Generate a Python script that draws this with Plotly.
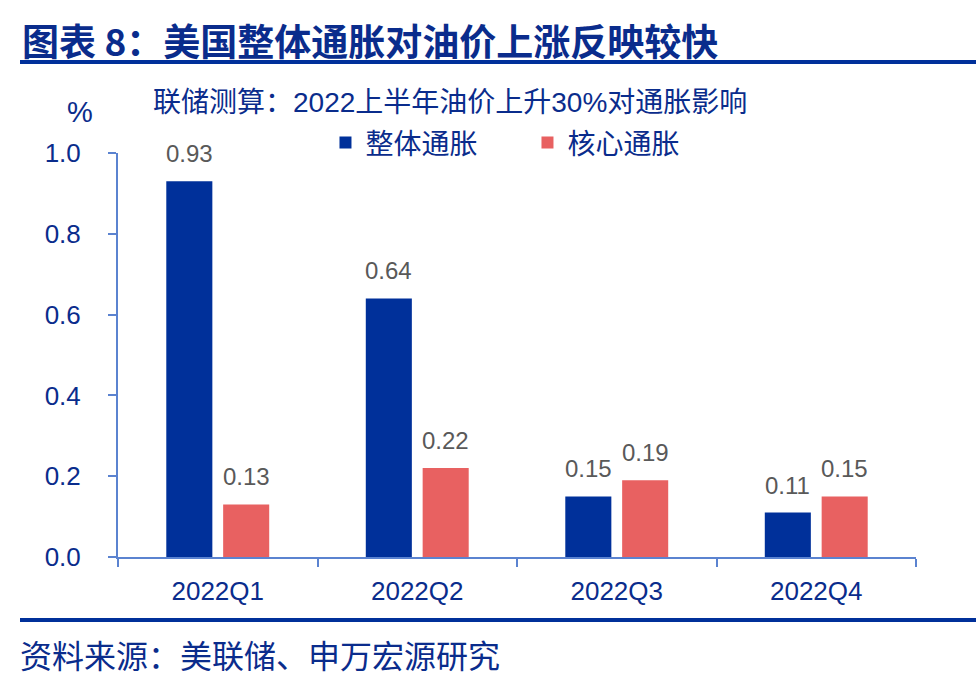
import plotly.graph_objects as go

categories = ["2022Q1", "2022Q2", "2022Q3", "2022Q4"]
headline = [0.93, 0.64, 0.15, 0.11]
core = [0.13, 0.22, 0.19, 0.15]
series_names = ["整体通胀", "核心通胀"]
y_ticks = [0.0, 0.2, 0.4, 0.6, 0.8, 1.0]

title_text = "图表 8：美国整体通胀对油价上涨反映较快"
subtitle_text = "联储测算：2022上半年油价上升30%对通胀影响"
source_text = "资料来源：美联储、申万宏源研究"

BLUE = "#00309A"
RED = "#E86161"
TEXT = "#0A2C8C"
AXIS = "#5B83D0"
LABEL = "#595959"
FONT = "Liberation Sans, Arial, Noto Sans CJK SC"

W, H = 976, 687
L, R, T, B = 118, 60, 153, 130
pw = W - L - R
ph = H - T - B

fig = go.Figure()
for name, vals, col in [(series_names[0], headline, BLUE), (series_names[1], core, RED)]:
    fig.add_trace(go.Bar(
        x=categories, y=vals, name=name,
        marker=dict(color=col, line=dict(width=0)),
        cliponaxis=False,
    ))

fig.update_layout(
    width=W, height=H,
    margin=dict(l=L, r=R, t=T, b=B, autoexpand=False),
    paper_bgcolor="white", plot_bgcolor="white",
    font=dict(family=FONT, color=TEXT, size=26),
    barmode="group", bargap=0.43, bargroupgap=0.19,
    showlegend=True,
    legend=dict(
        orientation="h", x=0.26, y=1.025, xanchor="left", yanchor="middle",
        font=dict(size=28, color=TEXT, family=FONT),
        entrywidth=157, entrywidthmode="pixels",
        itemwidth=30, bgcolor="rgba(0,0,0,0)",
    ),
    xaxis=dict(
        showline=True, linecolor=AXIS, linewidth=2,
        ticks="outside", tickson="boundaries", ticklen=8, tickcolor=AXIS, tickwidth=2,
        tickfont=dict(size=26, color=TEXT, family=FONT),
        showgrid=False, zeroline=False, ticklabelstandoff=10,
    ),
    yaxis=dict(
        range=[0, 1.0], tickvals=y_ticks, tickformat=".1f",
        showline=True, linecolor=AXIS, linewidth=2,
        ticks="outside", ticklen=8, tickcolor=AXIS, tickwidth=2,
        tickfont=dict(size=26, color=TEXT, family=FONT),
        showgrid=False, zeroline=False, ticklabelstandoff=22,
    ),
)

def fx(p):
    return (p - L) / pw

def fy(p):
    return (H - p - B) / ph

annotations = [
    dict(text=f"<b>{title_text}</b>", x=fx(20), y=fy(40), xref="paper", yref="paper",
         xanchor="left", yanchor="middle", showarrow=False,
         font=dict(size=37, color=TEXT, family="Noto Sans CJK SC")),
    dict(text=subtitle_text, x=fx(151), y=fy(102), xref="paper", yref="paper",
         xanchor="left", yanchor="middle", showarrow=False,
         font=dict(size=28, color=TEXT, family=FONT)),
    dict(text="%", x=fx(80), y=fy(112), xref="paper", yref="paper",
         xanchor="center", yanchor="middle", showarrow=False,
         font=dict(size=29, color=TEXT, family=FONT)),
    dict(text=source_text, x=fx(18), y=fy(657), xref="paper", yref="paper",
         xanchor="left", yanchor="middle", showarrow=False,
         font=dict(size=32, color=TEXT, family=FONT)),
]

# value labels above each bar
for vals, shift in [(headline, -28.5), (core, 28.5)]:
    for c, v in zip(categories, vals):
        annotations.append(dict(
            text=f"{v:.2f}", x=c, y=v, xref="x", yref="y", xshift=shift, yshift=12,
            xanchor="center", yanchor="bottom", showarrow=False,
            font=dict(size=24, color=LABEL, family=FONT),
        ))

fig.update_layout(annotations=annotations)

def line_shape(y_px):
    return dict(type="line", xref="paper", yref="paper",
                x0=fx(20), x1=fx(976), y0=fy(y_px), y1=fy(y_px),
                line=dict(color="#00309A", width=4))

fig.update_layout(shapes=[line_shape(62), line_shape(620)])

fig.write_html("out.html", config={"displayModeBar": False},
               post_script="document.body.style.margin='0';document.body.style.overflow='hidden';")
